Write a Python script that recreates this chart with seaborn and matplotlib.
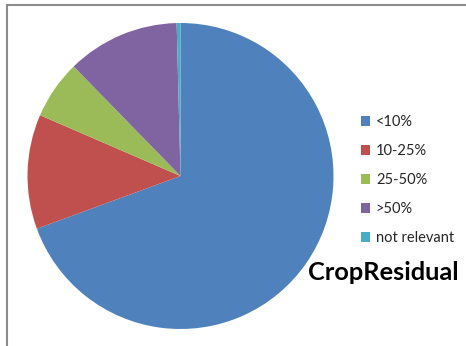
import matplotlib
matplotlib.use("Agg")
import matplotlib.pyplot as plt
import seaborn as sns
from matplotlib.lines import Line2D
from matplotlib.patches import Patch

categories = ["<10%", "10-25%", "25-50%", ">50%", "not relevant"]
values = [69.4, 12.1, 6.2, 11.9, 0.4]
colors = ["#4F81BD", "#C0504D", "#9BBB59", "#8064A2", "#4BACC6"]
title = "CropResidual"

sns.set_theme(style="white")
plt.rcParams["font.family"] = ["Lato", "DejaVu Sans"]

W, H = 466, 346
fig = plt.figure(figsize=(W / 100, H / 100), dpi=100)
fig.patch.set_facecolor("white")

cx, cy, r = 180.5, 176, 153
ax = fig.add_axes([(cx - r) / W, (H - cy - r) / H, 2 * r / W, 2 * r / H])
ax.pie(values, colors=colors, startangle=90, counterclock=False, radius=1,
       wedgeprops=dict(linewidth=0))
ax.set_xlim(-1, 1)
ax.set_ylim(-1, 1)
ax.set_aspect("auto")
ax.axis("off")

handles = [Patch(facecolor=c, edgecolor="none") for c in colors]
leg = fig.legend(handles, categories, loc="upper left",
                 bbox_to_anchor=(355 / W, 1 - 109 / H), frameon=False,
                 fontsize=10.5, handlelength=0.65, handleheight=0.65,
                 handletextpad=0.38, labelspacing=1.03, borderaxespad=0)

fig.text(383 / W, 1 - 272 / H, title, ha="center", va="center",
         fontsize=18.3, fontweight="bold", color="black")

fig.add_artist(Line2D([7 / W, 1], [1 - 5 / H, 1 - 5 / H], color="#8c8c8c", lw=1.5,
                      transform=fig.transFigure))
fig.add_artist(Line2D([7 / W, 7 / W], [0, 1 - 5 / H], color="#8c8c8c", lw=1.5,
                      transform=fig.transFigure))

fig.savefig("out.png", dpi=100)
